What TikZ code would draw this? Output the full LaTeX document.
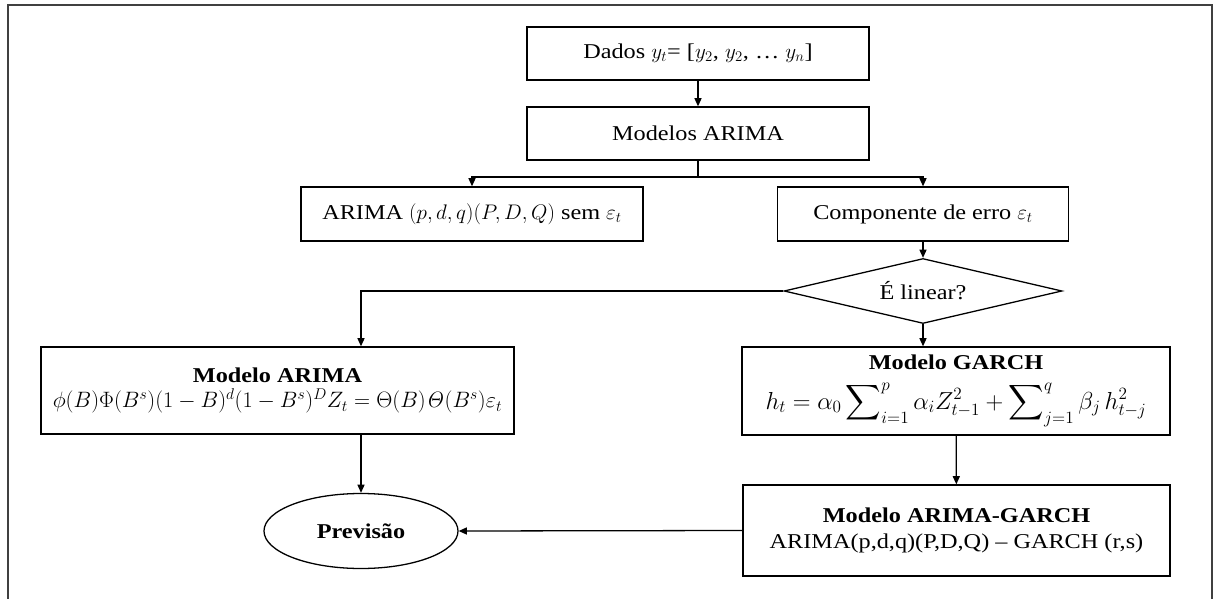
\RequirePackage{fix-cm}
\documentclass[tikz,border=0pt]{standalone}
\usepackage{amsmath,amssymb}
\usepackage[no-math]{fontspec}
\setmainfont{Liberation Serif}[FakeStretch=1.15]
\usepackage{tikz}
\usetikzlibrary{arrows.meta,positioning,shapes.geometric}

\begin{document}
\begin{tikzpicture}[x=0.03cm,y=-0.03cm,
  font=\fontsize{18}{22}\selectfont,
  caixa/.style={draw,line width=1.1pt,inner sep=2pt,align=center},
  seta/.style={-{Triangle[length=7pt,width=6pt]},line width=1.1pt}]
\useasboundingbox (0,0) rectangle (1214,599);
\draw [line width=2.2pt,black!75] (8,599) -- (8,5) -- (1212,5) -- (1212,599);

\node [caixa,minimum width=10.26cm,minimum height=1.59cm] (dados) at (698,53.5)
  {Dados $y_t$= [$y_2$, $y_2$, \ldots\ $y_n$]};
\node [caixa,minimum width=10.26cm,minimum height=1.59cm] (modelos) at (698,133.5)
  {Modelos ARIMA};
\node [caixa,minimum width=10.26cm,minimum height=1.62cm] (sem) at (472,214)
  {ARIMA $(p,d,q)(P,D,Q)$ sem $\varepsilon_t$};
\node [caixa,minimum width=8.73cm,minimum height=1.62cm] (comp) at (923,214)
  {Componente de erro $\varepsilon_t$};
\node [draw,line width=1.1pt,diamond,aspect=4.3,inner sep=0pt,
  minimum width=8.34cm,minimum height=1.95cm] (decisao) at (923,291) {É linear?};
\node [caixa,minimum width=14.19cm,minimum height=2.61cm] (arima) at (277.5,390.5)
  {\textbf{Modelo ARIMA}\\
   {\fontsize{19}{23}\selectfont
   $\phi(B)\Phi(B^s)(1-B)^d(1-B^s)^D Z_t=\Theta(B)\mathit{\Theta}(B^s)\varepsilon_t$}};
\node [caixa,minimum width=12.84cm,minimum height=2.64cm] (garch) at (956,391)
  {\textbf{Modelo GARCH}\\[10pt]
   {\fontsize{21}{25}\selectfont
   $\displaystyle h_t=\alpha_0\sum\nolimits_{i=1}^{p}\alpha_i Z_{t-1}^2
    +\sum\nolimits_{j=1}^{q}\beta_j\,h_{t-j}^2$}};
\node [caixa,minimum width=12.81cm,minimum height=2.73cm] (ag) at (956.5,530.5)
  {\textbf{Modelo ARIMA-GARCH}\\
   ARIMA(p,d,q)(P,D,Q) – GARCH (r,s)};
\node [draw,line width=1.1pt,ellipse,inner sep=0pt,
  minimum width=5.82cm,minimum height=2.25cm] (prev) at (361,531) {\textbf{Previsão}};

\coordinate (ramo) at (698,177);
\draw [seta] (dados) -- (modelos);
\draw [line width=1.1pt] (modelos) -- (ramo);
\draw [seta] (ramo) -| (sem);
\draw [seta] (ramo) -| (comp);
\draw [seta] (comp) -- (decisao);
\draw [seta] (decisao.west) -| (arima.north -| prev.north);
\draw [seta] (decisao.south) -- (decisao.south |- garch.north);
\draw [seta] (garch) -- (ag);
\draw [seta] (arima.south -| prev.north) -- (prev.north);
\draw [seta] (ag.west) -- (prev.east);
\end{tikzpicture}
\end{document}
